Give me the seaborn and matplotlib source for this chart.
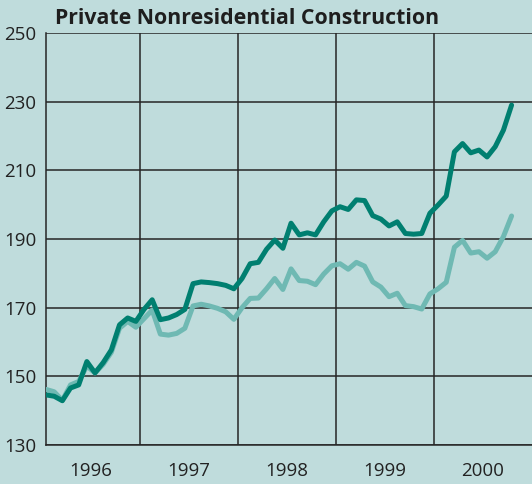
import numpy as np
import pandas as pd
import matplotlib
matplotlib.use("Agg")
import matplotlib.pyplot as plt
import seaborn as sns

# monthly index values, Jan 1996 - Oct 2000
dark_vals = [144.6, 144.2, 142.9, 146.6, 147.5, 154.3, 151.0, 154.0, 157.7, 165.0,
             167.0, 166.0, 169.5, 172.3, 166.5, 167.0, 168.0, 169.5, 177.0, 177.5,
             177.3, 177.0, 176.5, 175.5, 178.5, 182.8, 183.2, 187.0, 189.7, 187.3,
             194.6, 191.2, 191.8, 191.2, 195.0, 198.2, 199.4, 198.6, 201.4, 201.2,
             196.8, 195.8, 193.8, 195.0, 191.6, 191.4, 191.6, 197.5, 199.9, 202.5,
             215.4, 217.8, 215.1, 215.9, 213.9, 216.9, 221.7, 229.0]
light_vals = [146.2, 145.5, 143.0, 147.5, 148.5, 153.0, 151.0, 153.5, 157.0, 164.0,
              166.0, 164.3, 166.8, 169.3, 162.3, 162.0, 162.5, 164.0, 170.5, 171.0,
              170.5, 169.8, 168.8, 166.6, 170.0, 172.7, 172.8, 175.5, 178.5, 175.3,
              181.3, 177.9, 177.7, 176.7, 179.8, 182.2, 182.8, 181.2, 183.2, 182.1,
              177.5, 176.0, 173.2, 174.2, 170.6, 170.3, 169.6, 174.0, 175.5, 177.4,
              187.6, 189.6, 185.9, 186.3, 184.4, 186.3, 190.7, 196.7]
years = [1996, 1997, 1998, 1999, 2000]
y_ticks = [130, 150, 170, 190, 210, 230, 250]

n = len(dark_vals)
t = 1996 + (np.arange(n) + 0.5) / 12.0
df = pd.concat([
    pd.DataFrame({"t": t, "value": light_vals, "series": "light"}),
    pd.DataFrame({"t": t, "value": dark_vals, "series": "dark"}),
], ignore_index=True)

bg = "#bfdcdc"
sns.set_style("white")
plt.rcParams["font.family"] = ["Open Sans", "DejaVu Sans"]

fig = plt.figure(figsize=(5.32, 4.84), dpi=100, facecolor=bg)
ax = fig.add_axes([46 / 532, 39 / 484, 1 - 46 / 532, 412 / 484])
ax.set_facecolor(bg)

sns.lineplot(data=df, x="t", y="value", hue="series",
             palette={"light": "#6fb9b3", "dark": "#007f70"},
             linewidth=3.6, legend=False, ax=ax, zorder=3)

ax.set_xlim(t[0], 2001.0)
ax.set_ylim(130, 250)

# grid at year boundaries, labels centred in each year
ax.set_xticks([1997, 1998, 1999, 2000])
ax.set_xticklabels([])
ax.set_xticks([y + 0.5 for y in years], minor=True)
ax.set_xticklabels([str(y) for y in years], minor=True)
ax.set_yticks(y_ticks)
ax.tick_params(axis="x", which="both", length=0)
ax.tick_params(axis="x", which="minor", labelsize=13.5, pad=12, colors="#222222")
ax.tick_params(axis="y", length=2, width=1.1, color="#222222",
               labelsize=13.5, pad=5, colors="#222222")
ax.grid(True, which="major", color="#262626", linewidth=1.1)
ax.set_xlabel("")
ax.set_ylabel("")

for s in ["top", "right"]:
    ax.spines[s].set_visible(False)
for s in ["left", "bottom"]:
    ax.spines[s].set_color("#262626")
    ax.spines[s].set_linewidth(1.1)

fig.text(55 / 532, 1 - 24 / 484, "Private Nonresidential Construction",
         fontsize=15.3, fontweight="bold", color="#1e1e1e", va="baseline", ha="left")

fig.savefig("out.png", dpi=100, facecolor=bg)
